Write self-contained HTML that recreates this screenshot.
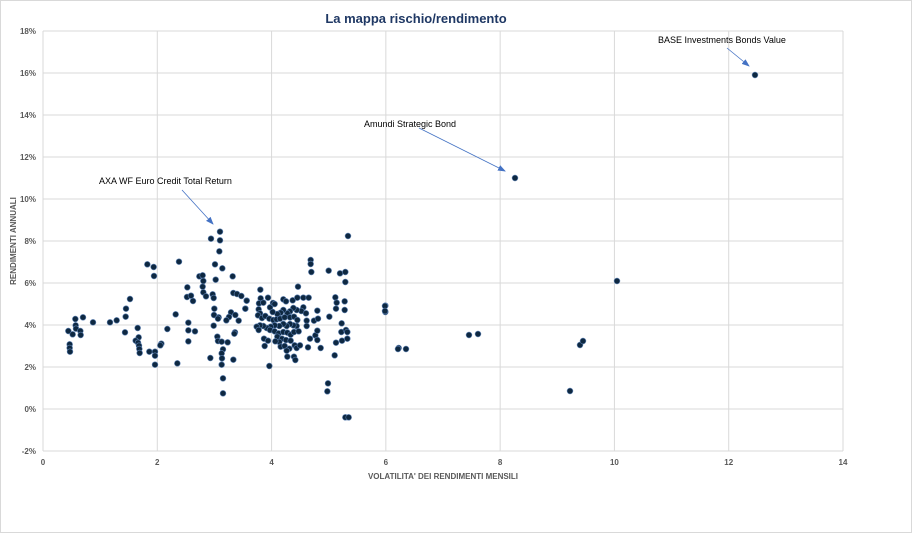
<!DOCTYPE html>
<html><head><meta charset="utf-8"><style>
body{margin:0;background:#fff;}
svg{display:block;font-family:"Liberation Sans",sans-serif;}
</style></head><body>
<svg id="s" width="913" height="534" xmlns="http://www.w3.org/2000/svg">
<rect x="0.5" y="0.5" width="911" height="532" fill="#fff" stroke="#d9d9d9"/>
<text x="416" y="23" text-anchor="middle" font-size="13" font-weight="bold" fill="#1f3864">La mappa rischio/rendimento</text>
<g id="grid" stroke="#d9d9d9" stroke-width="1"></g>
<g id="lab" font-size="8" font-weight="bold" fill="#595959"></g>
<text x="443" y="479" text-anchor="middle" font-size="8" font-weight="bold" fill="#595959">VOLATILITA' DEI RENDIMENTI MENSILI</text>
<text transform="translate(16,241) rotate(-90)" text-anchor="middle" font-size="8" font-weight="bold" fill="#595959">RENDIMENTI ANNUALI</text>
<defs><marker id="ar" markerWidth="8" markerHeight="8" refX="7" refY="4" orient="auto" markerUnits="userSpaceOnUse"><path d="M0,1 L8,4 L0,7 z" fill="#4472c4"/></marker></defs>
<g stroke="#4472c4" stroke-width="0.8" marker-end="url(#ar)">
<line x1="419" y1="128" x2="505" y2="171"/>
<line x1="182" y1="190" x2="213" y2="224"/>
<line x1="727" y1="48" x2="749" y2="66"/>
</g>
<g font-size="9" fill="#000">
<text x="658" y="43">BASE Investments Bonds Value</text>
<text x="364" y="127">Amundi Strategic Bond</text>
<text x="99" y="184">AXA WF Euro Credit Total Return</text>
</g>
<g id="pts"></g>
</svg>
<script>
var ns="http://www.w3.org/2000/svg",g=document.getElementById('grid'),lab=document.getElementById('lab'),pts=document.getElementById('pts');
function el(p,t,a,txt){var e=document.createElementNS(ns,t);for(var k in a)e.setAttribute(k,a[k]);if(txt)e.textContent=txt;p.appendChild(e);}
for(var i=0;i<=10;i++){var y=31+i*42;el(g,'line',{x1:43,x2:843,y1:y,y2:y});el(lab,'text',{x:36,y:y+3,'text-anchor':'end'},(18-2*i)+'%');}
for(var j=0;j<=7;j++){var x=43+j*800/7;el(g,'line',{x1:x,x2:x,y1:31,y2:451});el(lab,'text',{x:x,y:465,'text-anchor':'middle'},String(2*j));}
var z1=[[540,35],[513,56],[540,61],[538,94],[525,133],[547,145],[322,133],[341,141],[342,168],[417,125],[578,169],[478,169],[488,166],[490,183],[527,179],[442,202],[488,200],[490,217],[498,229],[518,223],[521,234],[441,231],[453,227],[459,243],[580,219],[591,222],[604,228],[620,242],[616,266],[523,266],[573,277],[586,285],[522,285],[536,292],[534,296],[567,291],[559,301],[596,302],[585,337],[583,341],[521,317],[532,350],[534,363],[545,365],[563,367],[549,388],[545,400],[546,415],[545,434],[511,414],[580,419],[549,475],[549,520],[85,333],[89,373],[89,384],[90,395],[106,297],[107,316],[108,326],[98,343],[121,333],[122,345],[129,292],[159,307],[210,307],[230,301],[255,337],[257,290],[258,266],[270,237],[293,324],[296,352],[287,362],[294,368],[297,377],[298,387],[299,399],[328,395],[345,395],[345,407],[345,434],[364,371],[361,376],[382,327],[407,283],[412,430],[445,308],[445,331],[465,334],[445,364]];
var z2=[[61,209],[62,235],[84,233],[20,242],[16,266],[57,250],[70,248],[56,268],[60,280],[54,286],[66,294],[76,288],[90,262],[99,249],[104,252],[130,238],[138,244],[158,241],[174,200],[172,233],[190,233],[206,233],[190,262],[184,273],[170,270],[160,264],[150,274],[142,280],[130,270],[122,278],[112,282],[98,276],[88,296],[100,300],[110,298],[120,296],[134,292],[150,292],[162,290],[172,300],[198,280],[200,302],[200,318],[222,302],[234,296],[232,272],[170,318],[160,316],[150,312],[140,318],[130,312],[118,318],[104,316],[92,320],[80,324],[70,318],[60,316],[50,320],[56,330],[90,330],[104,334],[116,340],[130,336],[142,338],[152,344],[162,336],[176,334],[112,350],[126,356],[138,360],[152,362],[118,366],[106,364],[72,356],[84,362],[74,378],[122,380],[134,378],[148,386],[140,392],[164,376],[170,384],[180,376],[204,382],[210,356],[226,346],[232,332],[232,360],[242,384],[142,410],[162,410],[166,420],[88,438],[212,120],[212,132],[214,156],[266,152],[300,160],[316,156],[316,186],[268,290],[286,232],[290,248],[314,244],[288,266],[314,270],[305,310],[304,336],[318,330],[322,336],[322,356],[306,362],[288,368],[284,406],[264,490],[262,514],[316,592],[326,592],[324,48],[436,257],[436,276],[476,384]];
var abs=[[385,306],[385,311],[398,349],[406,349],[469,335],[478,334],[515,178],[570,391],[580,345],[583,341],[617,281],[755,75]];
function dot(x,y){el(pts,'circle',{cx:x,cy:y,r:2.9,fill:'#0e2841',stroke:'#5b7fb0','stroke-width':0.6});}
z1.forEach(function(p){dot(40+p[0]/3,220+p[1]/3);});
z2.forEach(function(p){dot(240+p[0]/3,220+p[1]/3);});
abs.forEach(function(p){dot(p[0],p[1]);});
</script>
</body></html>
